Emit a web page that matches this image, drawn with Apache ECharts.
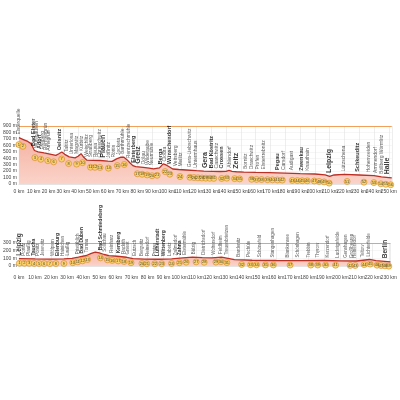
<!DOCTYPE html>
<html><head><meta charset="utf-8">
<script src="https://cdn.jsdelivr.net/npm/echarts@6/dist/echarts.min.js"></script>
<style>html,body{margin:0;padding:0;background:#fff}#c{width:400px;height:400px}</style>
</head><body><div id="c"></div>
<script>
// ---- Panel 1: Elsterquelle – Halle ----
const topKm   = [0,3,6,8,9,10.5,13,17,21,25,27,29,31,34,38,40,42,44,46,50,55,60,63,66,69,71,73,75,77,79,84,88,91,95,97.5,99,101,104,108,113,120,125,131,136,140,142,144,147,152,160,169,180,190,200,207,210,213,220,230,240,245,250,252];
const topElev = [720,690,660,630,590,520,500,482,465,445,470,497,460,420,405,430,470,410,370,368,365,355,352,390,418,415,378,330,285,270,258,245,233,250,312,300,275,233,225,217,206,200,196,194,196,210,195,190,185,180,175,168,160,155,140,120,140,150,140,130,110,100,95];
const topPlaces = ['Elsterquelle','Bad Elster','Mühlhausen','Adorf','Freiberg','Remtengrün','Arnsgrün','Oelsnitz','Taltitz','Unterlosa','Magwitz','Kürbitz','Weischlitz','Straßberg','Reusa','Chrieschwitz','Plauen','Jößnitz','Röttis','Jocketa','Barthmühle','Rentzschmühle','Elsterberg','Greiz','Dölau','Wildetaube','Neumühle','Berga','Clodra','Wünschendorf','Veitsberg','Meilitz','Gera-Liebschwitz','Untermhaus','Gera','Bad Köstritz','Caaschwitz','Crossen','Ahlendorf','Zeitz','Bornitz','Draschwitz','Profen','Elstertrebnitz','Pegau','Carsdorf','Audigast','Zwenkau','Knauthain','Leipzig','Lützschena','Schkeuditz','Hohenweiden','Ammendorf','Böllberg Wörmlitz','Halle'];
const topPlaceKm = [0,10,12,14,16,18,20,27.5,32,35.6,39,42.3,45.7,48.4,51.7,54.4,57,60.5,63.8,67.2,70,74,77.3,80.6,84,86.7,89.4,95.4,98.8,102,106,109.5,115.6,119.6,125.7,130.4,133.7,137,142.5,146.5,153,157,161.3,165.3,174.7,178.8,184,191,195,209.7,219.8,228.5,236.5,241.3,245.3,248.7];
const topPlaceRank = [0,1,0,1,0,0,0,1,0,0,0,0,0,0,0,0,2,0,0,0,0,0,1,2,0,0,0,1,0,1,0,0,0,0,2,1,0,1,0,2,0,0,0,0,1,0,0,1,0,2,0,1,0,0,0,2];
const topStopKm = [0,2.7,10.8,14.8,19.5,23.5,28.9,33.6,39,43,48.4,51.4,54.8,60.5,66.5,71.2,80,83.3,86.7,90,93.4,98.8,102,108.9,115.6,118.3,121,123.7,126.3,129,131.7,137,140.5,145.8,149.2,157.3,160.6,164,168,171.4,174.7,178,184.8,188.2,191.5,194.9,199.6,202.9,206.3,209.7,221.8,233.2,239.9,244.6,248,251.3];
const topStopNo = [1,2,3,4,5,6,7,8,9,10,11,12,13,14,15,16,17,18,19,20,21,22,23,24,25,26,27,28,29,30,31,32,33,34,35,36,37,38,39,40,41,42,43,44,45,46,47,48,49,50,51,52,53,54,55,56];
const topYTicks = [0,100,200,300,400,500,600,700,800,900];

// ---- Panel 2: Leipzig – Berlin ----
const botKm   = [0,10,20,28,33,37,42,45,47.5,50,53,56,61,67,71,78,87,95,102,108,114,120,126,130,134,145,160,175,190,200,210,218,222,231];
const botElev = [95,92,90,92,100,115,137,165,182,170,150,135,127,114,95,90,88,92,105,115,108,105,116,100,82,75,72,70,72,68,65,85,70,55];
const botPlaces = ['Leipzig','Portitz','Plaußig','Taucha','Pönitz','Jesewitz','Wölpern','Eilenburg','Hainichen','Laußig','Pristäblich','Bad Düben','Tornau','Bad Schmiedeberg','Söllichau','Reinharz','Kemberg','Rackith','Gniest','Eutzsch','Bergwitz','Reinsdorf','Pratau','Lutherstadt\nWittenberg','Labetz','Zallmsdorf','Zahna','Elstermühle','Bülzig','Dietrichsdorf','Woltersdorf','Feldheim','Treuenbrietzen','Bardenitz','Pechüle','Schönefeld','Stangenhagen','Blankensee','Schönhagen','Trebbin','Thyrow','Kerzendorf','Ludwigsfelde','Genshagen','Großbeeren','Heinersdorf','Teltow','Lichterfelde','Berlin'];
const botPlaceKm = [0,3,6,9,12,15,21,24,27.3,30.4,36.5,39,42,50.7,53.7,58,61.7,65.4,68,72,76.5,80,84.5,88,93.7,97.3,100,102.9,109,115,121.3,125.6,129,136.7,143,150,158,167.4,173.5,180,185.8,192,198,203,206.7,209,213.5,217.8,227.6];
const botPlaceRank = [2,0,0,1,0,0,0,1,0,0,0,1,0,1,0,0,1,0,0,0,0,0,0,1,0,0,1,0,0,0,0,0,0,0,0,0,0,0,0,0,0,0,0,0,0,0,0,0,2];
const botStopKm = [0.3,3.4,6.4,9.5,12.5,15.7,19.3,23,28,33.5,36.6,39.6,42.7,50.7,55,58,61.7,65.4,69.7,76.5,79.5,84.5,88.8,94.9,99.8,104,110.2,115.2,122.5,125.6,129.3,138.5,144,147.7,153.3,158.2,168.6,181.5,185.8,190.7,196.9,206,209.1,214.7,218.4,222.7,225.2,227.6,230];
const botStopNo = [1,2,3,4,5,6,7,8,9,10,11,12,13,14,15,16,17,18,19,20,21,22,23,24,25,26,27,28,29,30,31,32,33,34,35,36,37,38,39,40,41,42,43,44,45,46,47,48,49];
const botYTicks = [0,100,200,300];

// helpers (layout only: anchor labels/markers on the drawn profile)
function elevAt(kms, els, k){
  if(k<=kms[0]) return els[0];
  for(let i=1;i<kms.length;i++){
    if(k<=kms[i]){const t=(k-kms[i-1])/(kms[i]-kms[i-1]);return els[i-1]+t*(els[i]-els[i-1]);}
  }
  return els[els.length-1];
}
const FONT = "'Liberation Sans Narrow','Liberation Sans',Arial,sans-serif";
function placeData(names, kms, ranks, pk, pe, sizes){
  return names.map((n,i)=>{
    const r = ranks[i];
    return {name:n, value:[kms[i], elevAt(pk,pe,kms[i])],
      label:{fontSize: sizes[r], fontWeight: r>0?'bold':'normal', color: r>0?'#000':'#333', lineHeight: sizes[r]+0.5}};
  });
}
function stopData(nos, kms, pk, pe){
  return nos.map((n,i)=>({name:String(n), value:[kms[i], elevAt(pk,pe,kms[i])]}));
}
const lineColor = '#bb2f25';
const areaStyle = {color:new echarts.graphic.LinearGradient(0,0,0,1,[{offset:0,color:'#f4b3a4'},{offset:1,color:'#fbd3c9'}]), opacity:1};

function xAxisCfg(gi, max){
  return {type:'value', gridIndex:gi, min:0, max:max, interval:10,
    axisLine:{show:true, lineStyle:{color:'#d8d8d8', width:0.6}}, axisTick:{show:false},
    splitLine:{show:true, lineStyle:{color:'#e2e2e2', width:0.6}},
    axisLabel:{formatter:'{value} km', fontSize:5, color:'#444', margin: gi===0?5:9, fontFamily:FONT, showMaxLabel:false}};
}
function yAxisCfg(gi, max){
  return {type:'value', gridIndex:gi, min:0, max:max, interval:100,
    axisLine:{show:false}, axisTick:{show:false},
    splitLine:{show:true, lineStyle:{color:'#ececec', width:0.5}},
    axisLabel:{formatter:'{value} m', fontSize:5, color:'#444', margin:2, fontFamily:FONT}};
}
function profileSeries(idx, kms, els, topVal){
  return {type:'line', xAxisIndex:idx, yAxisIndex:idx, data:kms.map((k,i)=>[k,els[i]]),
    showSymbol:false, smooth:false, lineStyle:{color:lineColor, width:1.3}, areaStyle:areaStyle, z:2,
    markLine:{silent:true, symbol:'none', label:{show:false}, lineStyle:{color:'#f1a15b', width:1, type:'solid'}, data:[{yAxis:topVal}]}};
}
function labelSeries(idx, data){
  return {type:'scatter', xAxisIndex:idx, yAxisIndex:idx, data:data, symbolSize:0.1,
    itemStyle:{color:'rgba(0,0,0,0)'}, z:5, silent:true,
    label:{show:true, formatter:'{b}', position:'top', distance:3, rotate:90, align:'left', verticalAlign:'middle', fontFamily:FONT}};
}
function stopSeries(idx, data, off){
  return {type:'scatter', xAxisIndex:idx, yAxisIndex:idx, data:data, symbol:'circle', symbolSize:6, symbolOffset:[0,off],
    itemStyle:{color:'#f8d55a', borderColor:'#d9892a', borderWidth:0.8}, z:6, silent:true,
    label:{show:true, formatter:'{b}', position:'inside', fontSize:4, color:'#222', fontFamily:FONT}};
}

const chart = echarts.init(document.getElementById('c'), null, {renderer:'canvas'});
chart.setOption({
  animation:false,
  backgroundColor:'#fff',
  grid:[{left:18, top:126, width:375, height:58}, {left:17.5, top:243, width:376, height:23}],
  xAxis:[xAxisCfg(0,252), xAxisCfg(1,231)],
  yAxis:[yAxisCfg(0, topYTicks[topYTicks.length-1]), yAxisCfg(1, botYTicks[botYTicks.length-1])],
  series:[
    profileSeries(0, topKm, topElev, topYTicks[topYTicks.length-1]),
    labelSeries(0, placeData(topPlaces, topPlaceKm, topPlaceRank, topKm, topElev, [5,5.5,7])),
    stopSeries(0, stopData(topStopNo, topStopKm, topKm, topElev), 7),
    profileSeries(1, botKm, botElev, botYTicks[botYTicks.length-1]),
    labelSeries(1, placeData(botPlaces, botPlaceKm, botPlaceRank, botKm, botElev, [4.5,5,6.5])),
    stopSeries(1, stopData(botStopNo, botStopKm, botKm, botElev), 4.5)
  ]
});
</script></body></html>
